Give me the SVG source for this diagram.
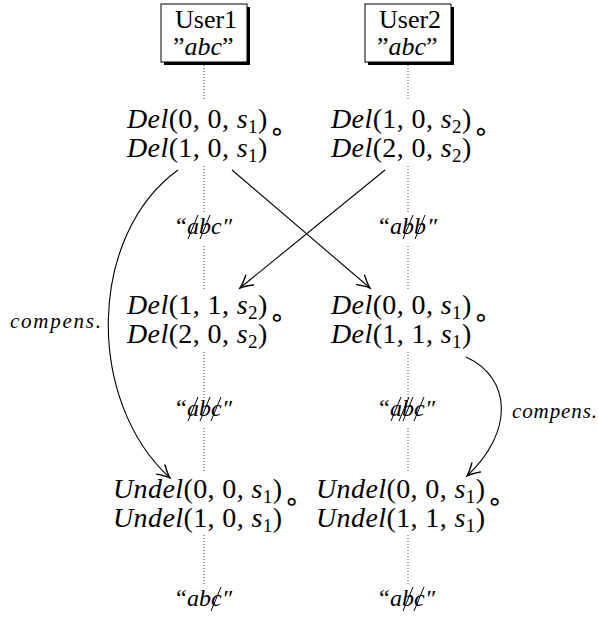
<svg xmlns="http://www.w3.org/2000/svg" width="598" height="618" viewBox="0 0 598 618">
<defs>
<marker id="arr" markerUnits="userSpaceOnUse" markerWidth="20" markerHeight="20" refX="0" refY="0" viewBox="-12 -8 14 16" orient="auto" overflow="visible">
<path d="M -10 -5 C -6 -2.5 -2.5 -0.8 0 0 C -2.5 0.8 -6 2.5 -10 5" fill="none" stroke="#000" stroke-width="1.1" stroke-linecap="round"/>
</marker>
</defs>
<style>
.m { font-family: "Liberation Serif", "DejaVu Serif", serif; font-size: 28px; letter-spacing: 0.4px; fill: #000; }
.bx { font-family: "Liberation Serif", "DejaVu Serif", serif; font-size: 26px; fill: #000; }
.i { font-style: italic; }
.sub { font-size: 19px; }
.circ { font-family: "DejaVu Sans", sans-serif; font-size: 26px; }
.box { fill: #fff; stroke: #000; stroke-width: 1; }
.shadow { fill: #000; }
.dot { stroke: #444; stroke-width: 1; stroke-dasharray: 1 2; fill: none; }
.edge { stroke: #000; stroke-width: 1.1; fill: none; marker-end: url(#arr); }
.str { font-family: "Liberation Serif", "DejaVu Serif", serif; font-size: 24px; fill: #000; }
.slash { stroke: #000; stroke-width: 1; }
.lbl { font-family: "Liberation Serif", "DejaVu Serif", serif; font-style: italic; font-size: 21px; fill: #000; }
</style>
<rect width="598" height="618" fill="#fff"/>

<g id="timelines">
<path class="dot" d="M204 65 V100 M204 166 V212 M204 246 V290 M204 352 V398 M204 428 V473 M204 535 V584"/>
<path class="dot" d="M408 65 V100 M408 166 V212 M408 246 V290 M408 352 V398 M408 428 V473 M408 535 V584"/>
</g>

<g id="user1">
<rect class="shadow" x="164" y="7" width="86" height="58"/>
<rect class="box" x="161" y="4" width="86" height="58"/>
<text class="bx" x="175" y="28">User1</text>
<text class="bx" x="173" y="55">”<tspan class="i">abc</tspan>”</text>
</g>
<g id="user2">
<rect class="shadow" x="368" y="7" width="86" height="58"/>
<rect class="box" x="365" y="4" width="86" height="58"/>
<text class="bx" x="379" y="28">User2</text>
<text class="bx" x="377" y="55">”<tspan class="i">abc</tspan>”</text>
</g>

<g id="u1op">
<text class="m" x="127" y="128"><tspan class="i">Del</tspan>(0, 0, <tspan class="i">s</tspan><tspan class="sub" dy="5">1</tspan><tspan dy="-5">)</tspan><tspan class="circ" dx="1" dy="12">∘</tspan></text>
<text class="m" x="127" y="157"><tspan class="i">Del</tspan>(1, 0, <tspan class="i">s</tspan><tspan class="sub" dy="5">1</tspan><tspan dy="-5">)</tspan></text>
</g>
<g id="u2op">
<text class="m" x="331" y="128"><tspan class="i">Del</tspan>(1, 0, <tspan class="i">s</tspan><tspan class="sub" dy="5">2</tspan><tspan dy="-5">)</tspan><tspan class="circ" dx="1" dy="12">∘</tspan></text>
<text class="m" x="331" y="157"><tspan class="i">Del</tspan>(2, 0, <tspan class="i">s</tspan><tspan class="sub" dy="5">2</tspan><tspan dy="-5">)</tspan></text>
</g>

<g id="u1s1">
<text class="str" y="234"><tspan x="176">“</tspan><tspan class="i" x="187">a</tspan><tspan class="i" x="199">b</tspan><tspan class="i" x="211">c</tspan><tspan class="i" x="222">″</tspan></text>
<line class="slash" x1="188" y1="239" x2="198" y2="215"/>
<line class="slash" x1="200" y1="239" x2="210" y2="215"/>
</g>
<g id="u2s1">
<text class="str" y="234"><tspan x="379">“</tspan><tspan class="i" x="390">a</tspan><tspan class="i" x="402">b</tspan><tspan class="i" x="414">b</tspan><tspan class="i" x="427">″</tspan></text>
<line class="slash" x1="403" y1="239" x2="413" y2="215"/>
<line class="slash" x1="415" y1="239" x2="425" y2="215"/>
</g>

<g id="u1op2">
<text class="m" x="127" y="314"><tspan class="i">Del</tspan>(1, 1, <tspan class="i">s</tspan><tspan class="sub" dy="5">2</tspan><tspan dy="-5">)</tspan><tspan class="circ" dx="1" dy="12">∘</tspan></text>
<text class="m" x="127" y="343"><tspan class="i">Del</tspan>(2, 0, <tspan class="i">s</tspan><tspan class="sub" dy="5">2</tspan><tspan dy="-5">)</tspan></text>
</g>
<g id="u2op2">
<text class="m" x="331" y="314"><tspan class="i">Del</tspan>(0, 0, <tspan class="i">s</tspan><tspan class="sub" dy="5">1</tspan><tspan dy="-5">)</tspan><tspan class="circ" dx="1" dy="12">∘</tspan></text>
<text class="m" x="331" y="343"><tspan class="i">Del</tspan>(1, 1, <tspan class="i">s</tspan><tspan class="sub" dy="5">1</tspan><tspan dy="-5">)</tspan></text>
</g>

<g id="u1s2">
<text class="str" y="416"><tspan x="176">“</tspan><tspan class="i" x="187">a</tspan><tspan class="i" x="199">b</tspan><tspan class="i" x="211">c</tspan><tspan class="i" x="222">″</tspan></text>
<line class="slash" x1="188" y1="421" x2="198" y2="397"/>
<line class="slash" x1="200" y1="421" x2="210" y2="397"/>
<line class="slash" x1="211" y1="421" x2="221" y2="397"/>
</g>
<g id="u2s2">
<text class="str" y="416"><tspan x="379">“</tspan><tspan class="i" x="390">a</tspan><tspan class="i" x="402">b</tspan><tspan class="i" x="414">c</tspan><tspan class="i" x="425">″</tspan></text>
<line class="slash" x1="391" y1="421" x2="401" y2="397"/>
<line class="slash" x1="399" y1="421" x2="409" y2="397"/>
<line class="slash" x1="403" y1="421" x2="413" y2="397"/>
<line class="slash" x1="414" y1="421" x2="424" y2="397"/>
</g>

<g id="u1op3">
<text class="m" x="113" y="498"><tspan class="i">Undel</tspan>(0, 0, <tspan class="i">s</tspan><tspan class="sub" dy="5">1</tspan><tspan dy="-5">)</tspan><tspan class="circ" dx="1" dy="12">∘</tspan></text>
<text class="m" x="113" y="527"><tspan class="i">Undel</tspan>(1, 0, <tspan class="i">s</tspan><tspan class="sub" dy="5">1</tspan><tspan dy="-5">)</tspan></text>
</g>
<g id="u2op3">
<text class="m" x="316" y="498"><tspan class="i">Undel</tspan>(0, 0, <tspan class="i">s</tspan><tspan class="sub" dy="5">1</tspan><tspan dy="-5">)</tspan><tspan class="circ" dx="1" dy="12">∘</tspan></text>
<text class="m" x="316" y="527"><tspan class="i">Undel</tspan>(1, 1, <tspan class="i">s</tspan><tspan class="sub" dy="5">1</tspan><tspan dy="-5">)</tspan></text>
</g>

<g id="u1s3">
<text class="str" y="606"><tspan x="176">“</tspan><tspan class="i" x="187">a</tspan><tspan class="i" x="199">b</tspan><tspan class="i" x="211">c</tspan><tspan class="i" x="222">″</tspan></text>
<line class="slash" x1="211" y1="611" x2="221" y2="587"/>
</g>
<g id="u2s3">
<text class="str" y="606"><tspan x="379">“</tspan><tspan class="i" x="390">a</tspan><tspan class="i" x="402">b</tspan><tspan class="i" x="414">c</tspan><tspan class="i" x="425">″</tspan></text>
<line class="slash" x1="403" y1="611" x2="413" y2="587"/>
<line class="slash" x1="414" y1="611" x2="424" y2="587"/>
</g>

<g id="connectors">
<path class="edge" d="M232 170 L370 288"/>
<path class="edge" d="M385 170 L240 288"/>
<path class="edge" d="M178 170 C88 235 85 400 170 478"/>
<path class="edge" d="M466 357 C512 378 514 432 467 476"/>
<text class="lbl" x="10" y="328" textLength="91" lengthAdjust="spacing">compens.</text>
<text class="lbl" x="512" y="418" textLength="85" lengthAdjust="spacing">compens.</text>
</g>
</svg>
